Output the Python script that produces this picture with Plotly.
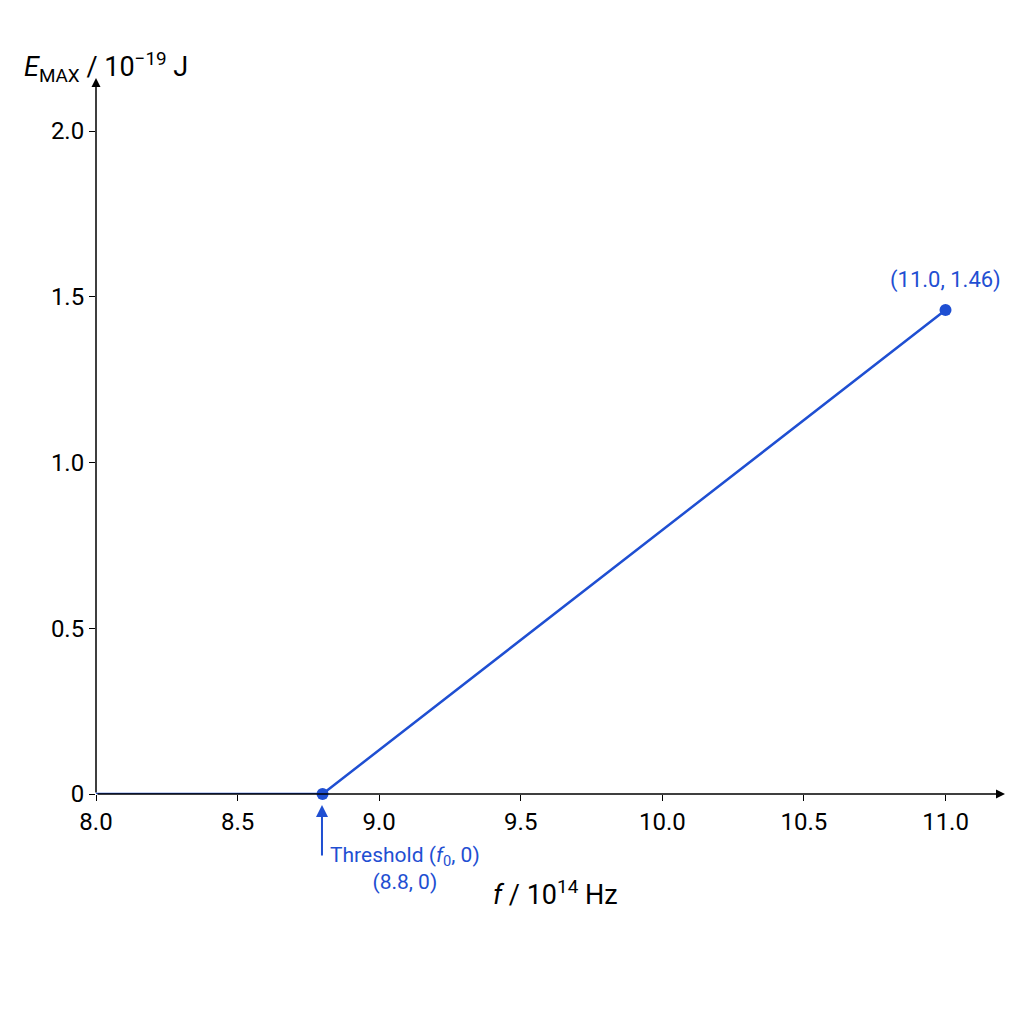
import plotly.graph_objects as go

freq = [8.0, 8.8, 11.0]
energy = [0.0, 0.0, 1.46]
tick_vals = [8.0, 8.5, 9.0, 9.5, 10.0, 10.5, 11.0]
y_ticks = [0, 0.5, 1.0, 1.5, 2.0]
y_labels = ["0", "0.5", "1.0", "1.5", "2.0"]

blue = "#1f4fd2"
family = "Roboto, Liberation Sans, sans-serif"
fnt = dict(family=family, size=24, color="black")

fig = go.Figure()
fig.add_trace(go.Scatter(x=freq, y=energy, mode="lines", line=dict(color=blue, width=2.5),
                         hoverinfo="skip"))
fig.add_trace(go.Scatter(x=freq[1:], y=energy[1:], mode="markers",
                         marker=dict(color=blue, size=12), hoverinfo="skip", cliponaxis=False))

ann = []
# axis arrows
ann.append(dict(x=11.21, y=0, xref="x", yref="y", ax=8.0, ay=0, axref="x", ayref="y",
                showarrow=True, arrowhead=2, arrowsize=1.2, arrowwidth=1.5, arrowcolor="black", text=""))
ann.append(dict(x=8.0, y=2.16, xref="x", yref="y", ax=8.0, ay=0, axref="x", ayref="y",
                showarrow=True, arrowhead=2, arrowsize=1.2, arrowwidth=1.5, arrowcolor="black", text=""))
# threshold arrow (paper coords, below the axis)
ann.append(dict(x=0.2486, y=-0.0154, xref="paper", yref="paper", ax=0, ay=52, showarrow=True,
                arrowhead=2, arrowsize=1.2, arrowwidth=2, arrowcolor=blue, text=""))
ann.append(dict(x=0.255, y=-0.142, xref="paper", yref="paper", showarrow=False,
                text="Threshold (<i>f</i><sub>0</sub>, 0)<br>(8.8, 0)",
                font=dict(family=family, size=21, color=blue), align="center"))
ann.append(dict(x=11.0, y=1.55, xref="x", yref="y", showarrow=False, text="(11.0, 1.46)",
                font=dict(family=family, size=22, color=blue)))
ann.append(dict(x=0.505, y=-0.166, xref="paper", yref="paper", showarrow=False,
                text="<i>f</i> / 10<sup>14</sup> Hz", font=dict(family=family, size=27)))
ann.append(dict(x=-0.0814, y=1.046, xref="paper", yref="paper", showarrow=False, xanchor="left",
                text="<i>E</i><sub>MAX</sub> / 10<sup>−19</sup> J", font=dict(family=family, size=27)))

fig.update_layout(
    width=1024, height=1024, autosize=False,
    paper_bgcolor="white", plot_bgcolor="white",
    margin=dict(l=88, r=27, t=70, b=238),
    showlegend=False, font=fnt, annotations=ann,
    xaxis=dict(range=[8.0, 11.21], tickvals=tick_vals, ticktext=[f"{v:.1f}" for v in tick_vals],
               showgrid=False, zeroline=False, showline=False, ticks="outside",
               ticklen=6, tickcolor="black", fixedrange=True),
    yaxis=dict(range=[0, 2.16], tickvals=y_ticks, ticktext=y_labels, showgrid=False,
               zeroline=False, showline=False, ticks="outside", ticklen=6,
               tickcolor="black", fixedrange=True),
)
fig.write_html("out.html")
